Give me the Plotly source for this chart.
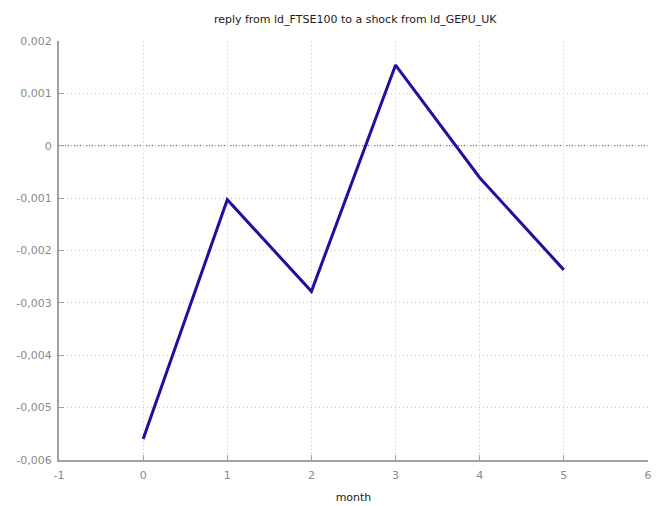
import plotly.graph_objects as go

months = [0, 1, 2, 3, 4, 5]
response = [-0.00560, -0.00103, -0.00278, 0.00154, -0.00061, -0.00237]

x_ticks = [-1, 0, 1, 2, 3, 4, 5, 6]
y_ticks = [-0.006, -0.005, -0.004, -0.003, -0.002, -0.001, 0, 0.001, 0.002]
y_labels = ["-0,006", "-0,005", "-0,004", "-0,003", "-0,002", "-0,001", "0", "0,001", "0,002"]

title_text = "reply from ld_FTSE100 to a shock from ld_GEPU_UK"
x_title = "month"

fig = go.Figure()
fig.add_trace(go.Scatter(
    x=months, y=response, mode="lines",
    line=dict(color="#2010a0", width=3),
    showlegend=False, hoverinfo="skip",
))

fig.update_layout(
    width=656, height=506,
    margin=dict(l=59, r=4, t=41, b=44),
    paper_bgcolor="white", plot_bgcolor="white",
    font=dict(family="DejaVu Sans", size=11, color="#8a8a8a"),
    title=dict(text=title_text, x=0.5415, xanchor="center", y=0.962, yanchor="middle",
               font=dict(family="DejaVu Sans", size=11, color="#202020")),
    xaxis=dict(
        range=[-1, 6], tickvals=x_ticks, ticktext=[str(v) for v in x_ticks],
        showline=True, linecolor="#a0a0a0", linewidth=2,
        ticks="inside", ticklen=5, tickcolor="#a0a0a0",
        showgrid=True, gridcolor="#c4c4c4", griddash="1px,3px", gridwidth=1,
        zeroline=False, ticklabelstandoff=4,
        title=dict(text=x_title, font=dict(family="DejaVu Sans", size=11, color="#202020"), standoff=12),
    ),
    yaxis=dict(
        range=[-0.006, 0.002], tickvals=y_ticks, ticktext=y_labels,
        showline=True, linecolor="#a0a0a0", linewidth=2,
        ticks="inside", ticklen=5, tickcolor="#a0a0a0",
        showgrid=True, gridcolor="#c4c4c4", griddash="1px,3px", gridwidth=1,
        zeroline=False, ticklabelstandoff=3,
    ),
)
fig.add_hline(y=0, line=dict(color="#505050", width=1, dash="1px,2px"), layer="below")

fig.write_html("out.html")
